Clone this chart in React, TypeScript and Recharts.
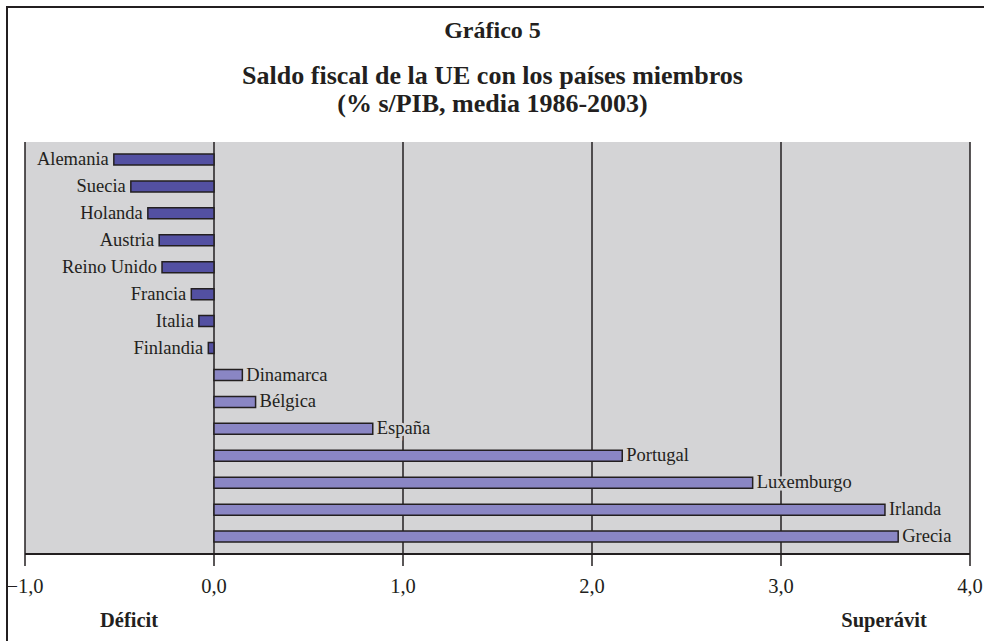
import { BarChart, Bar, XAxis, YAxis, CartesianGrid, Cell, LabelList } from 'recharts'

const countries = [
  'Alemania', 'Suecia', 'Holanda', 'Austria', 'Reino Unido', 'Francia', 'Italia', 'Finlandia',
  'Dinamarca', 'Bélgica', 'España', 'Portugal', 'Luxemburgo', 'Irlanda', 'Grecia',
]
const balance = [
  -0.53, -0.44, -0.35, -0.29, -0.275, -0.12, -0.08, -0.03,
  0.15, 0.22, 0.84, 2.16, 2.85, 3.55, 3.62,
]
const xTicks = [-1, 0, 1, 2, 3, 4]
const gridValues = [-1, 0, 1, 2, 3, 4]

const data = countries.map((name, i) => ({ name, value: balance[i] }))

const FONT = '"Liberation Serif", "Times New Roman", serif'
const PLOT_BG = '#D4D4D6'
const INK = '#231F20'

const fmt = (v: number) => (v < 0 ? '\u2212' : '') + Math.abs(v).toFixed(1).replace('.', ',')

function BarName(props: any) {
  const { x, y, width, height, value } = props
  const left = Math.min(x, x + width)
  const right = Math.max(x, x + width)
  const neg = width < 0
  return (
    <text
      x={neg ? left - 5 : right + 4}
      y={y + height / 2}
      dy="0.3em"
      textAnchor={neg ? 'end' : 'start'}
      fontFamily={FONT}
      fontSize={18.5}
      fill={INK}
      stroke={PLOT_BG}
      strokeWidth={5}
      paintOrder="stroke"
    >
      {value}
    </text>
  )
}

export default function App() {
  return (
    <div style={{ position: 'absolute', left: 0, top: 0, width: 985, height: 641, background: '#fff', fontFamily: FONT, color: INK }}>
      <div style={{ position: 'absolute', left: 6, top: 6, right: 1, bottom: 0, borderTop: `2px solid ${INK}`, borderLeft: `2px solid ${INK}` }} />
      <div style={{ position: 'absolute', left: 0, width: 985, top: 17, textAlign: 'center', fontWeight: 'bold', fontSize: 24 }}>
        Gráfico 5
      </div>
      <div style={{ position: 'absolute', left: 0, width: 985, top: 62, textAlign: 'center', fontWeight: 'bold', fontSize: 26, lineHeight: '28px' }}>
        Saldo fiscal de la UE con los países miembros
        <br />
        (% s/PIB, media 1986-2003)
      </div>
      <div style={{ position: 'absolute', left: 0, top: 0 }}>
        <BarChart
          width={985}
          height={641}
          layout="vertical"
          data={data}
          margin={{ top: 142, right: 15, bottom: 57, left: 25 }}
          barCategoryGap={8}
        >
          <CartesianGrid
            fill={PLOT_BG}
            fillOpacity={1}
            horizontal={false}
            verticalValues={gridValues}
            stroke={INK}
            strokeWidth={1.5}
          />
          <XAxis
            xAxisId="top"
            orientation="top"
            type="number"
            domain={[-1, 4]}
            ticks={xTicks}
            tick={false}
            tickLine={false}
            height={0}
            axisLine={{ stroke: INK, strokeWidth: 2 }}
          />
          <XAxis
            type="number"
            domain={[-1, 4]}
            ticks={xTicks}
            tickFormatter={fmt}
            height={30}
            tickSize={12}
            tickMargin={12}
            axisLine={{ stroke: INK, strokeWidth: 2 }}
            tickLine={{ stroke: INK, strokeWidth: 1.5 }}
            tick={{ fontFamily: FONT, fontSize: 20.5, fill: INK }}
            interval={0}
          />
          <YAxis type="category" dataKey="name" hide padding={{ top: 4, bottom: 4 }} />
          <Bar dataKey="value" barSize={11} stroke={INK} strokeWidth={1.5} isAnimationActive={false}>
            {data.map((d) => (
              <Cell key={d.name} fill={d.value < 0 ? '#5350A2' : '#8A86C4'} />
            ))}
            <LabelList dataKey="name" content={BarName} />
          </Bar>
        </BarChart>
      </div>
      <div style={{ position: 'absolute', left: 129, top: 609, transform: 'translateX(-50%)', fontWeight: 'bold', fontSize: 20.5 }}>
        Déficit
      </div>
      <div style={{ position: 'absolute', left: 884, top: 609, transform: 'translateX(-50%)', fontWeight: 'bold', fontSize: 20.5 }}>
        Superávit
      </div>
    </div>
  )
}
